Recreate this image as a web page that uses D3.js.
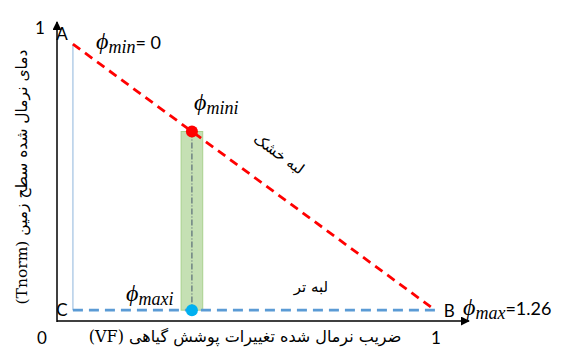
<!DOCTYPE html>
<html>
<head>
<meta charset="utf-8">
<script src="https://cdn.jsdelivr.net/npm/d3@7"></script>
<style>
  html, body { margin: 0; padding: 0; background: #fff; }
  svg { display: block; }
  .fa { font-family: "DejaVu Serif", "DejaVu Sans", serif; }
  .lat { font-family: "Lato", "Open Sans", sans-serif; }
  .math { font-family: "Liberation Serif", "DejaVu Serif", serif; font-style: italic; }
</style>
</head>
<body>
<script>
// Triangle corners of the VF–Tnorm space (normalised units)
const cornerNames = ["A", "B", "C"];
const cornerVF    = [0.042, 0.998, 0.042];
const cornerT     = [0.945, 0.037, 0.037];

// Phi values at the dry-edge / wet-edge extremes
const phiLabels = ["min", "max"];
const phiValues = ["0", "1.26"];

// Sample pixel column (VF) and its band width
const sampleVF = [0.356];
const bandWidth = [0.057];

// Axis tick labels
const xTicks = [0, 1];
const yTicks = [1];

const W = 561, H = 350;
const svg = d3.select("body").append("svg").attr("width", W).attr("height", H);

const x = d3.scaleLinear().domain([0, 1]).range([57, 436]);
const y = d3.scaleLinear().domain([0, 1]).range([321, 28]);

const A = { vf: cornerVF[0], t: cornerT[0] };
const B = { vf: cornerVF[1], t: cornerT[1] };
const C = { vf: cornerVF[2], t: cornerT[2] };

// Dry edge: line A–B, evaluated at a given VF
const dryAt = vf => A.t + (B.t - A.t) * (vf - A.vf) / (B.vf - A.vf);

// Arrow marker
svg.append("defs").append("marker")
  .attr("id", "arr").attr("viewBox", "0 0 10 10")
  .attr("refX", 9).attr("refY", 5)
  .attr("markerWidth", 9).attr("markerHeight", 9)
  .attr("markerUnits", "userSpaceOnUse")
  .attr("orient", "auto")
  .append("path").attr("d", "M0,0 L10,5 L0,10 Z").attr("fill", "#000");

// Axes
svg.append("line").attr("x1", x(0)).attr("y1", y(0) + 1).attr("x2", x(0)).attr("y2", 22)
  .attr("stroke", "#000").attr("stroke-width", 1.5).attr("marker-end", "url(#arr)");
svg.append("line").attr("x1", x(0)).attr("y1", y(0)).attr("x2", 469).attr("y2", y(0))
  .attr("stroke", "#000").attr("stroke-width", 1.5).attr("marker-end", "url(#arr)");

// Thin edge A–C
svg.append("line")
  .attr("x1", x(A.vf)).attr("y1", y(A.t)).attr("x2", x(C.vf)).attr("y2", y(C.t))
  .attr("stroke", "#a8c6e4").attr("stroke-width", 1.3);

// Green band at the sample column
const s = sampleVF[0];
svg.append("rect")
  .attr("x", x(s - bandWidth[0] / 2)).attr("width", x(bandWidth[0]) - x(0))
  .attr("y", y(dryAt(s))).attr("height", y(C.t) - y(dryAt(s)))
  .attr("fill", "#c5e0b4").attr("stroke", "#a9d18e").attr("stroke-width", 1);

// Dash-dot line through the band
svg.append("line")
  .attr("x1", x(s)).attr("y1", y(dryAt(s))).attr("x2", x(s)).attr("y2", y(C.t))
  .attr("stroke", "#44546a").attr("stroke-width", 1).attr("stroke-dasharray", "6,2,1,2");

// Wet edge C–B
svg.append("line")
  .attr("x1", x(C.vf)).attr("y1", y(C.t)).attr("x2", x(B.vf)).attr("y2", y(B.t))
  .attr("stroke", "#5b9bd5").attr("stroke-width", 2.6).attr("stroke-dasharray", "10,6");

// Dry edge A–B
svg.append("line")
  .attr("x1", x(A.vf)).attr("y1", y(A.t)).attr("x2", x(B.vf)).attr("y2", y(B.t))
  .attr("stroke", "#ff0000").attr("stroke-width", 2.8).attr("stroke-dasharray", "9,6");

// Points on the edges
svg.append("circle").attr("cx", x(s)).attr("cy", y(dryAt(s))).attr("r", 6).attr("fill", "#ff0000");
svg.append("circle").attr("cx", x(s)).attr("cy", y(C.t)).attr("r", 6).attr("fill", "#00b0f0");

// Tick labels
svg.append("text").attr("class", "lat").attr("x", x(xTicks[0]) - 15).attr("y", 344)
  .attr("text-anchor", "middle").attr("font-size", 17).text(xTicks[0]);
svg.append("text").attr("class", "lat").attr("x", x(xTicks[1])).attr("y", 344)
  .attr("text-anchor", "middle").attr("font-size", 17).text(xTicks[1]);
svg.append("text").attr("class", "lat").attr("x", x(0) - 17).attr("y", y(yTicks[0]) + 6)
  .attr("text-anchor", "middle").attr("font-size", 17).text(yTicks[0]);

// Corner letters
const cornerPos = [
  { dx: -11, dy: -4 },
  { dx: 14, dy: 7 },
  { dx: -11, dy: 6 }
];
cornerNames.forEach((n, i) => {
  svg.append("text").attr("class", "lat")
    .attr("x", x(cornerVF[i]) + cornerPos[i].dx).attr("y", y(cornerT[i]) + cornerPos[i].dy)
    .attr("text-anchor", "middle").attr("font-size", 17).text(n);
});

// Phi annotations
function phi(xp, yp, sub, val) {
  const t = svg.append("text").attr("x", xp).attr("y", yp);
  t.append("tspan").attr("class", "math").attr("font-size", 24).text("\u03D5");
  t.append("tspan").attr("class", "math").attr("font-size", 18).attr("dy", 4).text(sub);
  if (val !== null) {
    t.append("tspan").attr("class", "lat").attr("font-size", 18).attr("dy", -4).text("=" + val);
  }
}
phi(96, 49, phiLabels[0], " " + phiValues[0]);
phi(194, 110, "mini", null);
phi(126, 301, "maxi", null);
phi(463, 315, phiLabels[1], phiValues[1]);

// Edge names
svg.append("text").attr("class", "fa").attr("font-size", 15).attr("direction", "rtl")
  .attr("text-anchor", "middle")
  .attr("transform", "translate(276,158) rotate(36)")
  .text("لبه خشک");
svg.append("text").attr("class", "fa").attr("font-size", 15).attr("direction", "rtl")
  .attr("text-anchor", "middle")
  .attr("x", 311).attr("y", 292)
  .text("لبه تر");

// Axis titles
svg.append("text").attr("class", "fa").attr("font-size", 16).attr("direction", "rtl")
  .attr("text-anchor", "middle")
  .attr("x", 245).attr("y", 342)
  .text("ضریب نرمال شده تغییرات پوشش گیاهی (VF)");
svg.append("text").attr("class", "fa").attr("font-size", 15.5).attr("direction", "rtl")
  .attr("text-anchor", "middle")
  .attr("transform", "translate(27,177) rotate(-90)")
  .text("دمای نرمال شده سطح زمین (Tnorm)");
</script>
</body>
</html>
